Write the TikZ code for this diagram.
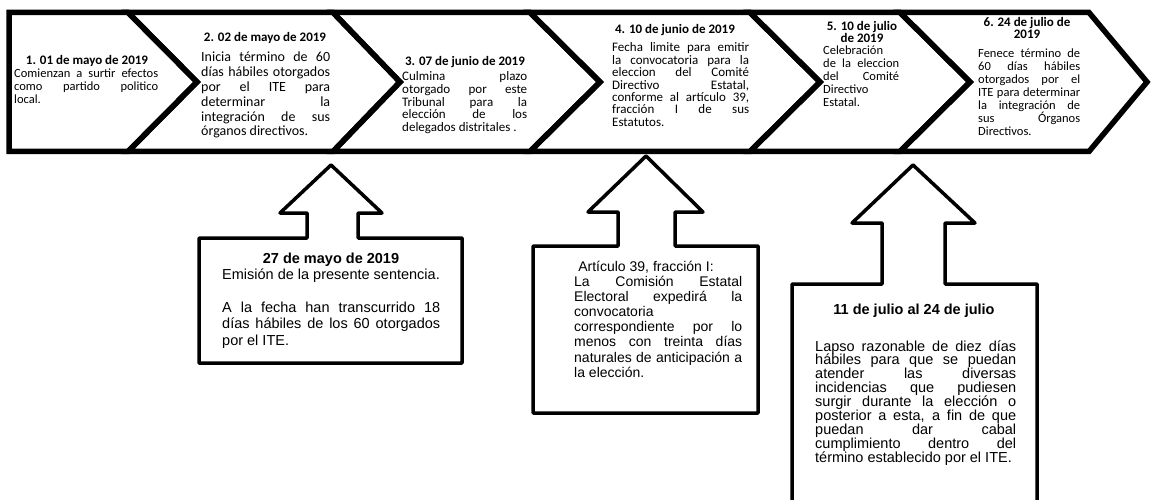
\documentclass[tikz,border=0pt]{standalone}
\usepackage{fontspec}
\setmainfont{Carlito}
\newfontfamily\arialf{Liberation Sans}
\tolerance=10000
\hbadness=10000
\hyphenpenalty=10000
\begin{document}
\begin{tikzpicture}[x=1pt,y=-1pt,
  chev/.style={draw=black,line width=5.5pt,line join=miter},
  callout/.style={draw=black,line width=3.5pt,line join=round},
  ttl/.style={font=\fontsize{13}{12.5}\selectfont\bfseries,inner sep=0pt,anchor=base},
  bdy/.style={font=\fontsize{12.5}{12.9}\selectfont,inner sep=0pt,anchor=base west,align=justify},
  cttl/.style={font=\arialf\fontsize{14.5}{15}\selectfont\bfseries,inner sep=0pt,anchor=base},
  cbdy/.style={inner sep=0pt,anchor=base west,align=justify}
]
\fill[white] (0,0) rectangle (1151,500);
\useasboundingbox (0,0) rectangle (1151,500);

% chevrons
\draw[chev] (9,12.5) -- (128,12.5) -- (197,82) -- (128,151.5) -- (9,151.5) -- cycle;
\draw[chev] (128,12.5) -- (333,12.5) -- (400,82) -- (333,151.5) -- (128,151.5) -- (197,82) -- cycle;
\draw[chev] (333,12.5) -- (530,12.5) -- (600,82) -- (530,151.5) -- (333,151.5) -- (400,82) -- cycle;
\draw[chev] (530,12.5) -- (750,12.5) -- (820,82) -- (750,151.5) -- (530,151.5) -- (600,82) -- cycle;
\draw[chev] (750,12.5) -- (900,12.5) -- (970,82) -- (900,151.5) -- (750,151.5) -- (820,82) -- cycle;
\draw[chev] (900,12.5) -- (1089,12.5) -- (1147,82) -- (1089,151.5) -- (900,151.5) -- (970,82) -- cycle;

% chevron texts
\node[ttl] (t1) at (87,65) {1. 01 de mayo de 2019};
\node[bdy,text width=144] (b1) at (14,78) {Comienzan a surtir efectos\linebreak como partido politico\linebreak local.};

\node[ttl] (t2) at (265,42) {2. 02 de mayo de 2019};
\node[bdy,text width=129,font=\fontsize{14}{14.8}\selectfont] (b2) at (201,62) {Inicia término de 60\linebreak días hábiles otorgados\linebreak por el ITE para\linebreak determinar la\linebreak integración de sus\linebreak órganos directivos.};

\node[ttl] (t3) at (465,66) {3. 07 de junio de 2019};
\node[bdy,text width=125,font=\fontsize{13}{12.6}\selectfont] (b3) at (402,81) {Culmina plazo\linebreak otorgado por este\linebreak Tribunal para la\linebreak elección de los\linebreak delegados distritales~.};

\node[ttl] (t4) at (675,34) {4. 10 de junio de 2019};
\node[bdy,text width=137,font=\fontsize{13}{12.4}\selectfont] (b4) at (612,52) {Fecha limite para emitir\linebreak la convocatoria para la\linebreak eleccion del Comité\linebreak Directivo Estatal,\linebreak conforme al artículo 39,\linebreak fracción I de sus\linebreak Estatutos.};

\node[ttl] (t5a) at (862,31) {5. 10 de julio};
\node[ttl] (t5b) at (862,43) {de 2019};
\node[bdy,text width=76] (b5) at (823,55) {Celebración\linebreak de la eleccion\linebreak del Comité\linebreak Directivo\linebreak Estatal.};

\node[ttl] (t6a) at (1027,27) {6. 24 de julio de};
\node[ttl] (t6b) at (1027,39) {2019};
\node[bdy,text width=102] (b6) at (978,58) {Fenece término de\linebreak 60 días hábiles\linebreak otorgados por el\linebreak ITE para determinar\linebreak la integración de\linebreak sus Órganos\linebreak Directivos.};

% callout 1
\draw[callout] (199,238) -- (307,238) -- (307,213) -- (280,213) -- (331,165) -- (382,213) -- (358,213) -- (358,238) -- (462,238) -- (462,363) -- (199,363) -- cycle;
\node[cttl] (ct1) at (331,263) {27 de mayo de 2019};
\node[cbdy,text width=218,font=\arialf\fontsize{14.5}{16.5}\selectfont] (cb1) at (222,279) {Emisión de la presente sentencia.\par\vspace{16.5pt}A la fecha han transcurrido 18\linebreak días hábiles de los 60 otorgados\linebreak por el ITE.};

% callout 2
\draw[callout] (533,246) -- (618,246) -- (618,212) -- (588,212) -- (646,156) -- (703,212) -- (675,212) -- (675,246) -- (758,246) -- (758,413) -- (533,413) -- cycle;
\node[inner sep=0pt,anchor=base,font=\arialf\fontsize{14}{15}\selectfont] (ct2) at (646,271) {Artículo 39, fracción I:};
\node[cbdy,text width=168,font=\arialf\fontsize{14}{15.2}\selectfont] (cb2) at (574,286) {La Comisión Estatal\linebreak Electoral expedirá la\linebreak convocatoria\linebreak correspondiente por lo\linebreak menos con treinta días\linebreak naturales de anticipación a\linebreak la elección.};

% callout 3
\draw[callout] (792,503) -- (792,284) -- (882,284) -- (882,223) -- (852,223) -- (913,165) -- (975,223) -- (945,223) -- (945,284) -- (1037,284) -- (1037,503);
\node[cttl] (ct3) at (914,314) {11 de julio al 24 de julio};
\node[cbdy,text width=201,font=\arialf\fontsize{14.5}{13.9}\selectfont] (cb3) at (815,351) {Lapso razonable de diez días\linebreak hábiles para que se puedan\linebreak atender las diversas\linebreak incidencias que pudiesen\linebreak surgir durante la elección o\linebreak posterior a esta, a fin de que\linebreak puedan dar cabal\linebreak cumplimiento dentro del\linebreak término establecido por el ITE.};
\end{tikzpicture}
\end{document}
